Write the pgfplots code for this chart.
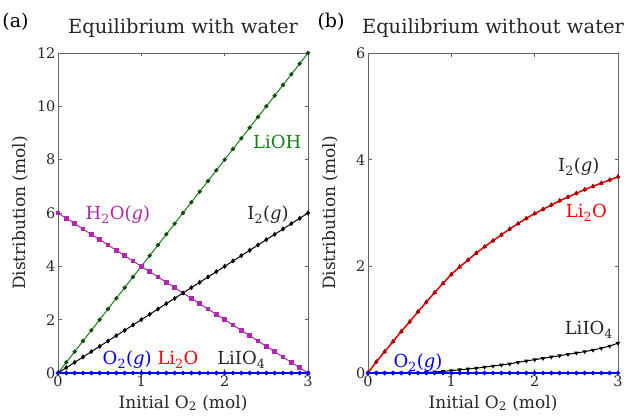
\documentclass[border=0pt]{standalone}
\usepackage{fontspec}
\setmainfont{DejaVu Serif}
\usepackage{pgfplots}
\pgfplotsset{compat=1.18}
\usepackage{pgfplotstable}
\definecolor{mygreen}{RGB}{20,130,20}
\definecolor{mymag}{RGB}{175,40,175}
\definecolor{frame}{RGB}{100,100,100}
\newcommand{\sub}[1]{\textsubscript{#1}}
\newcommand{\lab}{\fontsize{18}{21}\selectfont}
\pgfplotstableread{
x lioh i2 h2o zero
0.0 0.0 0.0 6.0 0
0.1 0.4 0.2 5.8 0
0.2 0.8 0.4 5.6 0
0.3 1.2 0.6 5.4 0
0.4 1.6 0.8 5.2 0
0.5 2.0 1.0 5.0 0
0.6 2.4 1.2 4.8 0
0.7 2.8 1.4 4.6 0
0.8 3.2 1.6 4.4 0
0.9 3.6 1.8 4.2 0
1.0 4.0 2.0 4.0 0
1.1 4.4 2.2 3.8 0
1.2 4.8 2.4 3.6 0
1.3 5.2 2.6 3.4 0
1.4 5.6 2.8 3.2 0
1.5 6.0 3.0 3.0 0
1.6 6.4 3.2 2.8 0
1.7 6.8 3.4 2.6 0
1.8 7.2 3.6 2.4 0
1.9 7.6 3.8 2.2 0
2.0 8.0 4.0 2.0 0
2.1 8.4 4.2 1.8 0
2.2 8.8 4.4 1.6 0
2.3 9.2 4.6 1.4 0
2.4 9.6 4.8 1.2 0
2.5 10.0 5.0 1.0 0
2.6 10.4 5.2 0.8 0
2.7 10.8 5.4 0.6 0
2.8 11.2 5.6 0.4 0
2.9 11.6 5.8 0.2 0
3.0 12.0 6.0 0.0 0
}\tabA
\pgfplotstableread{
x li2o liio4 zero
0.0 0.00 0.000 0
0.1 0.21 0.000 0
0.2 0.40 0.000 0
0.3 0.59 0.000 0
0.4 0.78 0.000 0
0.5 0.96 0.000 0
0.6 1.15 0.003 0
0.7 1.33 0.010 0
0.8 1.51 0.020 0
0.9 1.68 0.030 0
1.0 1.85 0.045 0
1.1 1.99 0.060 0
1.2 2.12 0.075 0
1.3 2.25 0.090 0
1.4 2.37 0.110 0
1.5 2.48 0.130 0
1.6 2.59 0.150 0
1.7 2.70 0.170 0
1.8 2.80 0.200 0
1.9 2.90 0.225 0
2.0 2.99 0.250 0
2.1 3.07 0.275 0
2.2 3.15 0.300 0
2.3 3.23 0.325 0
2.4 3.30 0.350 0
2.5 3.37 0.375 0
2.6 3.44 0.400 0
2.7 3.50 0.430 0
2.8 3.56 0.465 0
2.9 3.62 0.505 0
3.0 3.68 0.560 0
}\tabB
\begin{document}
\begin{tikzpicture}
\path[use as bounding box] (0pt,0pt) rectangle (629pt,415pt);
\pgfplotsset{
  panel/.style={
    scale only axis, width=250pt, height=320pt, anchor=south west,
    xmin=0, xmax=3, ymin=0, xtick={0,1,2,3},
    /pgf/number format/assume math mode=true,
    tick align=inside, major tick length=3.5pt,
    axis line style={frame, line width=0.6pt},
    every tick/.style={frame, line width=0.5pt},
    tick label style={font=\fontsize{14.5}{17}\selectfont, text=black!85},
    xticklabel style={yshift=1pt},
    yticklabel style={xshift=1pt},
    label style={font=\fontsize{17}{20}\selectfont, text=black!85},
    title style={font=\fontsize{19.5}{22}\selectfont, text=black!85, at={(axis description cs:0.5,1.058)}, anchor=center},
    xlabel={Initial O\sub{2} (mol)},
    ylabel={Distribution (mol)},
    xlabel style={at={(axis description cs:0.5,-0.094)}, anchor=center},
    ylabel style={at={(axis description cs:-0.152,0.5)}, anchor=center},
    clip=false,
  },
}
\begin{axis}[panel, at={(58pt,42pt)}, ymax=12, ytick={0,2,4,6,8,10,12},
  title={Equilibrium with water}]
\addplot[mygreen, line width=1pt, mark=*, mark size=1.6pt, mark options={fill=mygreen!70!black, draw=mygreen!60!black}] table[x=x,y=lioh]{\tabA};
\addplot[mymag, line width=1pt, mark=square*, mark size=1.7pt] table[x=x,y=h2o]{\tabA};
\addplot[black, line width=1pt, mark=diamond*, mark size=1.8pt] table[x=x,y=i2]{\tabA};
\addplot[black, line width=1pt, mark=none] table[x=x,y=zero]{\tabA};
\addplot[red, line width=1pt, mark=none] table[x=x,y=zero]{\tabA};
\addplot[blue, line width=1.6pt, mark=*, mark size=1.3pt, mark options={fill=blue!80!black}] table[x=x,y=zero]{\tabA};
\node[mygreen, font=\lab] at (axis cs:2.63,8.66) {LiOH};
\node[mymag, font=\lab] at (axis cs:0.72,5.93) {H\sub{2}O(\textit{g})};
\node[black!85, font=\lab] at (axis cs:2.52,5.93) {I\sub{2}(\textit{g})};
\node[blue, font=\lab] at (axis cs:0.83,0.49) {O\sub{2}(\textit{g})};
\node[red, font=\lab] at (axis cs:1.44,0.49) {Li\sub{2}O};
\node[black!85, font=\lab] at (axis cs:2.2,0.49) {LiIO\sub{4}};
\node[font=\fontsize{19}{22}\selectfont] at (rel axis cs:-0.17,1.097) {(a)};
\end{axis}
\begin{axis}[panel, at={(368pt,42pt)}, ymax=6, ytick={0,2,4,6},
  title={Equilibrium without water}]
\addplot[black, line width=1pt, mark=diamond*, mark size=1.5pt] table[x=x,y=li2o]{\tabB};
\addplot[red, line width=1.4pt, mark=triangle*, mark size=1.4pt, mark options={fill=red, draw=red!70!black}] table[x=x,y=li2o]{\tabB};
\addplot[black, line width=1pt, mark=triangle*, mark size=1.6pt, mark options={rotate=180}] table[x=x,y=liio4]{\tabB};
\addplot[blue, line width=1.6pt, mark=*, mark size=1.3pt, mark options={fill=blue!80!black}] table[x=x,y=zero]{\tabB};
\node[black!85, font=\lab] at (axis cs:2.53,3.86) {I\sub{2}(\textit{g})};
\node[red, font=\lab] at (axis cs:2.62,3.0) {Li\sub{2}O};
\node[black!85, font=\lab] at (axis cs:2.65,0.81) {LiIO\sub{4}};
\node[blue, font=\lab] at (axis cs:0.60,0.19) {O\sub{2}(\textit{g})};
\node[font=\fontsize{19}{22}\selectfont] at (rel axis cs:-0.148,1.097) {(b)};
\end{axis}
\end{tikzpicture}
\end{document}
